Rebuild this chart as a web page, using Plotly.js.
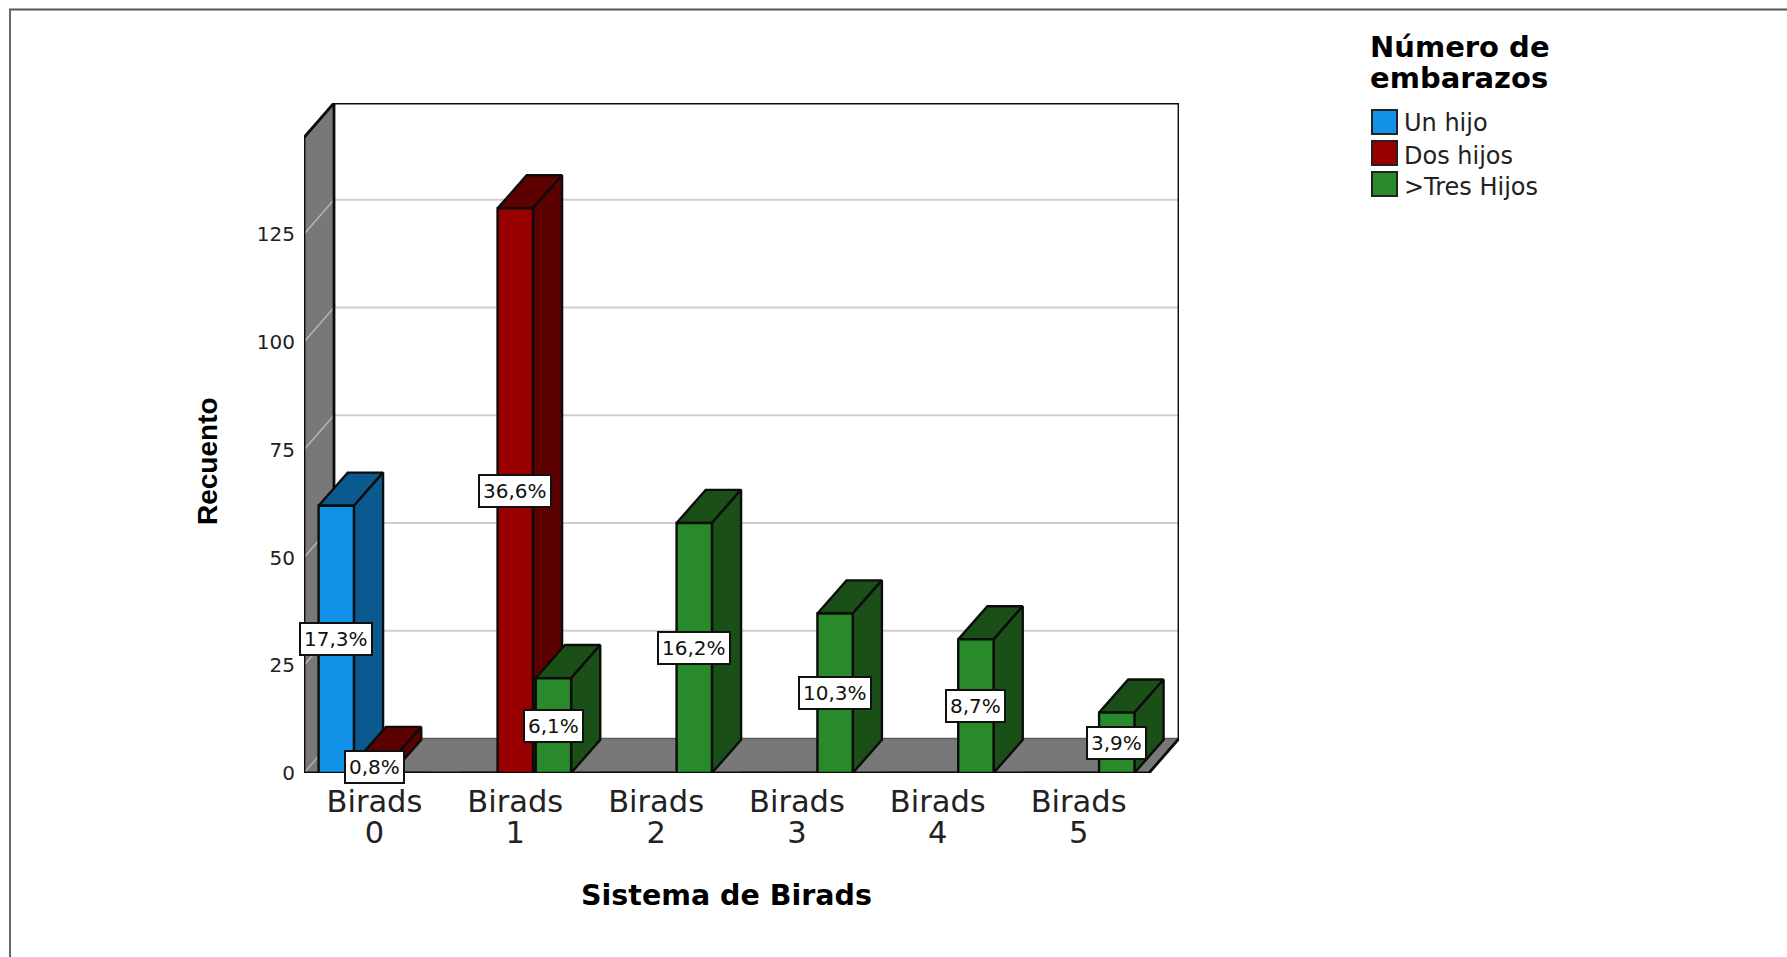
<!DOCTYPE html>
<html>
<head>
<meta charset="utf-8">
<script src="https://cdn.plot.ly/plotly-3.0.1.min.js"></script>
<style>html,body{margin:0;padding:0;background:#fff}</style>
</head>
<body>
<div id="chart" style="width:1787px;height:957px"></div>
<script>
const categories = ['Birads 0', 'Birads 1', 'Birads 2', 'Birads 3', 'Birads 4', 'Birads 5'];
const unHijo     = [62, 0, 0, 0, 0, 0];
const dosHijos   = [3, 131, 0, 0, 0, 0];
const tresHijos  = [0, 22, 58, 37, 31, 14];
const unHijoPct    = ['17,3%', '', '', '', '', ''];
const dosHijosPct  = ['0,8%', '36,6%', '', '', '', ''];
const tresHijosPct = ['', '6,1%', '16,2%', '10,3%', '8,7%', '3,9%'];
const yTicks = [0, 25, 50, 75, 100, 125];
const seriesNames = ['Un hijo', 'Dos hijos', '>Tres Hijos'];
const frontColors = ['#1192e8', '#990000', '#298a2b'];
const darkColors  = ['#0b5a8f', '#5c0000', '#1a5017'];

const series = [unHijo, dosHijos, tresHijos];
const seriesPct = [unHijoPct, dosHijosPct, tresHijosPct];

// 3D frame, in axis units
const xMin = -0.5, xMax = 5.5, yTop = 147.45;
const depthX = 0.213, depthY = 8;
const barDepthX = 0.207, barDepthY = 7.7;
const slotW = 0.271, barW = 0.251;
const bargap = 1 - 3 * slotW, groupgap = 1 - barW / slotW;
const LINE = '#0c0c0c';
const mainFont = 'DejaVu Sans, Verdana, sans-serif';

// plot box in page pixels (used for paper-anchored items only)
const M = {l: 304, r: 1179, t: 103, b: 773};
const px = v => (v - M.l) / (M.r - M.l);
const py = v => (M.b - v) / (M.b - M.t);

function poly(xs, ys, fill, lineColor, lineWidth) {
  return {type: 'scatter', mode: 'lines', x: xs, y: ys, fill: 'toself', fillcolor: fill,
    line: {color: lineColor, width: lineWidth}, hoverinfo: 'skip', showlegend: false, cliponaxis: false};
}
function seg(xs, ys, color, width) {
  return {type: 'scatter', mode: 'lines', x: xs, y: ys, line: {color: color, width: width},
    hoverinfo: 'skip', showlegend: false, cliponaxis: false, connectgaps: false};
}

const traces = [];
// left wall and floor
traces.push(poly([xMin, xMin + depthX, xMin + depthX, xMin, xMin],
                 [0, depthY, yTop + depthY, yTop, 0], '#787878', '#787878', 1));
traces.push(poly([xMin, xMax, xMax + depthX, xMin + depthX, xMin],
                 [0, 0, depthY, depthY, 0], '#787878', '#5c5c5c', 1.5));
// gridlines
const gridBackX = [], gridBackY = [], gridWallX = [], gridWallY = [];
yTicks.forEach(v => {
  if (v > 0) {
    gridBackX.push(xMin + depthX, xMax + depthX, null);
    gridBackY.push(v + depthY, v + depthY, null);
  }
  gridWallX.push(xMin, xMin + depthX, null);
  gridWallY.push(v, v + depthY, null);
});
traces.push(seg(gridBackX, gridBackY, '#cfcfcf', 2));
traces.push(seg(gridWallX, gridWallY, '#b4b4b4', 1.5));
// frame edges
traces.push(seg([xMin, xMin, null, xMin + depthX, xMin + depthX, xMax + depthX, xMax + depthX, xMax, null, xMin, xMax, null, xMin, xMin + depthX],
                [0, yTop, null, depthY, yTop + depthY, yTop + depthY, depthY, 0, null, 0, 0, null, yTop, yTop + depthY], LINE, 2.8));

// top and side faces of each bar
const annotations = [];
categories.forEach((c, ci) => {
  series.forEach((vals, si) => {
    const v = vals[ci];
    if (!v) return;
    const mid = ci + (si - 1) * slotW;
    const a = mid - barW / 2, b = mid + barW / 2;
    traces.push(poly([a, b, b + barDepthX, a + barDepthX, a], [v, v, v + barDepthY, v + barDepthY, v], darkColors[si], LINE, 2.4));
    traces.push(poly([b, b + barDepthX, b + barDepthX, b, b], [0, barDepthY, v + barDepthY, v, 0], darkColors[si], LINE, 2.4));
    annotations.push({x: mid, y: v / 2, xref: 'x', yref: 'y', text: seriesPct[si][ci], showarrow: false,
      font: {family: mainFont, size: 20, color: '#111'}, bgcolor: '#fff', bordercolor: '#111', borderwidth: 2, borderpad: 3});
  });
});

// front faces: real bars on the overlaying axes
const xIdx = categories.map((c, i) => i);
series.forEach((vals, si) => {
  traces.push({type: 'bar', name: seriesNames[si], x: xIdx, y: vals, xaxis: 'x2', yaxis: 'y2',
    marker: {color: frontColors[si], line: {color: LINE, width: 2.4}}, showlegend: false,
    cliponaxis: false, hoverinfo: 'x+y+name'});
});

// legend
const shapes = [
  {type: 'line', xref: 'paper', yref: 'paper', x0: px(9), x1: px(1787), y0: py(9.5), y1: py(9.5), line: {color: '#555', width: 2}},
  {type: 'line', xref: 'paper', yref: 'paper', x0: px(10), x1: px(10), y0: py(9), y1: py(957), line: {color: '#666', width: 2}}
];
const legendRows = [[110, 134, 123], [141, 165, 156], [172, 196, 187]];
seriesNames.forEach((n, i) => {
  const r = legendRows[i];
  shapes.push({type: 'rect', xref: 'paper', yref: 'paper', x0: px(1372), x1: px(1397), y0: py(r[0]), y1: py(r[1]),
    fillcolor: frontColors[i], line: {color: '#222', width: 2}});
  annotations.push({xref: 'paper', yref: 'paper', x: px(1402), y: py(r[2]), xanchor: 'left', yanchor: 'middle', text: n,
    showarrow: false, font: {family: mainFont, size: 24, color: '#222'}});
});
[['Número de', 47], ['embarazos', 78]].forEach(t => {
  annotations.push({xref: 'paper', yref: 'paper', x: px(1368), y: py(t[1]), xanchor: 'left', yanchor: 'middle', text: t[0],
    showarrow: false, font: {family: mainFont, size: 29, weight: 700, color: '#000'}});
});
// axis titles
annotations.push({xref: 'x', yref: 'paper', x: 2.5, y: py(895), xanchor: 'center', yanchor: 'middle', text: 'Sistema de Birads', showarrow: false,
  font: {family: mainFont, size: 28.5, weight: 700, color: '#000'}});
annotations.push({xref: 'paper', yref: 'paper', x: px(207), y: py(461), xanchor: 'center', yanchor: 'middle', text: 'Recuento', textangle: -90, showarrow: false,
  font: {family: 'Liberation Sans, Arial, sans-serif', size: 28, weight: 700, color: '#000'}});

const xRange = [xMin, xMax + depthX], yRange = [0, yTop + depthY];
const layout = {
  width: 1787, height: 957, autosize: false,
  margin: {l: M.l, r: 1787 - M.r, t: M.t, b: 957 - M.b, pad: 0},
  paper_bgcolor: '#fff', plot_bgcolor: '#fff', showlegend: false,
  barmode: 'group', bargap: bargap, bargroupgap: groupgap,
  xaxis: {range: xRange, type: 'linear', tickmode: 'array', tickvals: xIdx,
    ticktext: categories.map(c => c.split(' ')[0]), showgrid: false, zeroline: false, showline: false, ticks: '',
    tickfont: {family: mainFont, size: 30.5, color: '#222'}, ticklabelstandoff: 7},
  xaxis2: {range: xRange, type: 'linear', overlaying: 'x', anchor: 'y2', tickmode: 'array', tickvals: xIdx,
    ticktext: categories.map(c => c.split(' ')[1]), showgrid: false, zeroline: false, showline: false, ticks: '',
    tickfont: {family: mainFont, size: 30.5, color: '#222'}, ticklabelstandoff: 38},
  yaxis: {range: yRange, tickmode: 'array', tickvals: yTicks, showgrid: false, zeroline: false, showline: false, ticks: '',
    tickfont: {family: mainFont, size: 20, color: '#222'}, ticklabelstandoff: 8},
  yaxis2: {range: yRange, overlaying: 'y', showticklabels: false, showgrid: false, zeroline: false, showline: false, ticks: ''},
  shapes: shapes, annotations: annotations
};
Plotly.newPlot('chart', traces, layout, {displayModeBar: false, responsive: false});
</script>
</body>
</html>
